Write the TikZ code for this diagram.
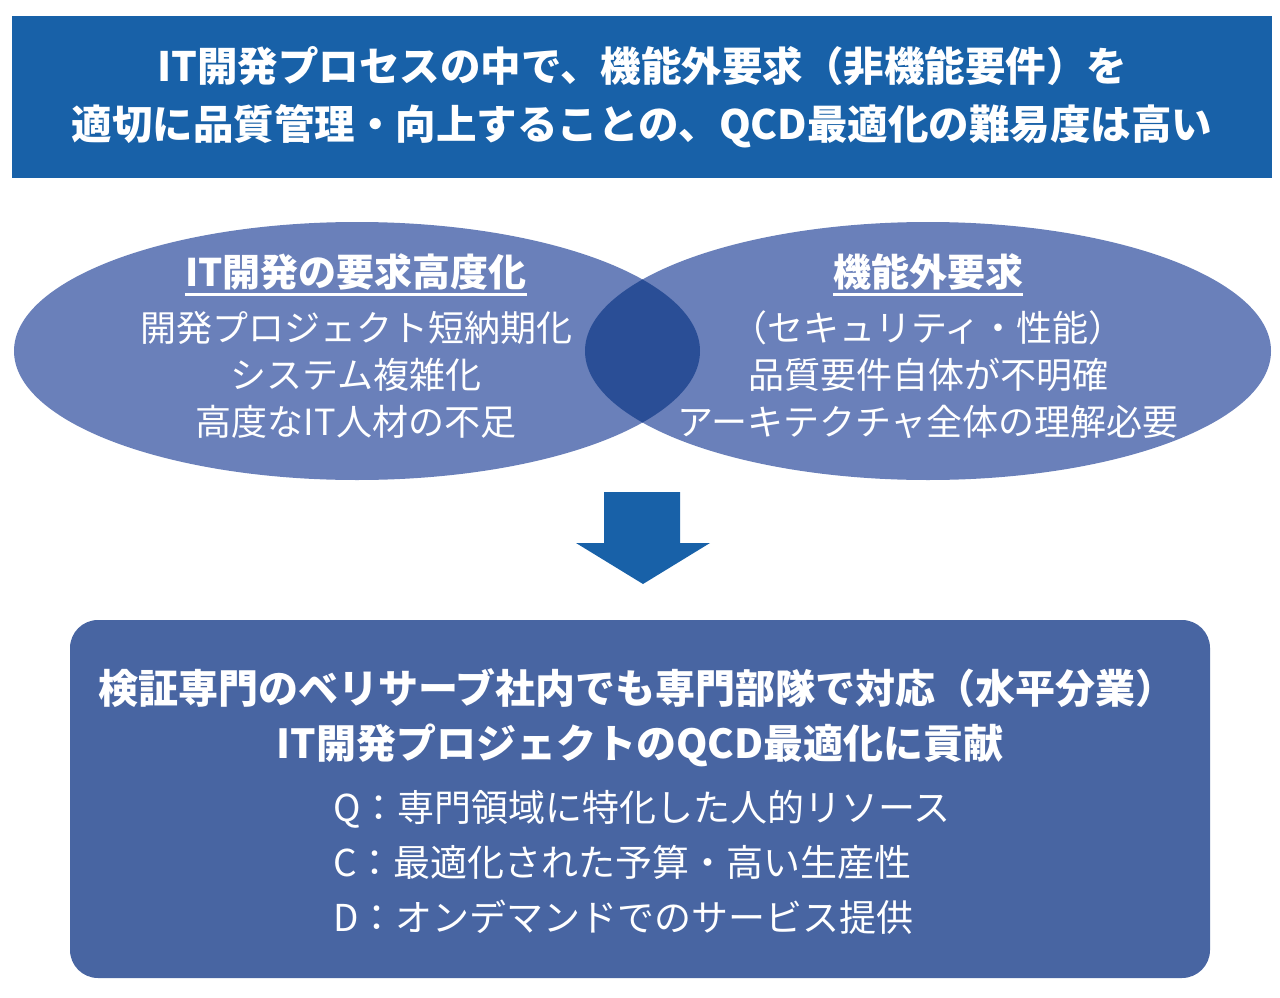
\documentclass[tikz,border=0pt]{standalone}
\usepackage{fontspec}
\setmainfont{Noto Sans CJK JP}
\usetikzlibrary{shapes.geometric}
\definecolor{topblue}{RGB}{24,97,168}
\definecolor{ellblue}{RGB}{106,128,186}
\definecolor{ovlblue}{RGB}{42,78,150}
\definecolor{botblue}{RGB}{72,101,162}
\tikzset{
  ellbox/.style={ellipse, fill=ellblue, minimum width=686pt, minimum height=258pt, inner sep=0pt},
  txt/.style={text=white, inner sep=0pt, align=center},
  ttl/.style={txt, font=\bfseries\fontsize{38}{44}\selectfont},
  body/.style={txt, font=\fontsize{36}{47}\selectfont},
  uline/.style={draw=white, line width=3pt},
}
\begin{document}
\begin{tikzpicture}[x=1pt,y=-1pt]
\useasboundingbox (0,0) rectangle (1280,998);
% top box
\node[fill=topblue, minimum width=1260pt, minimum height=162pt, inner sep=0pt] (top) at (642,97) {};
\node[txt, font=\bfseries\fontsize{40.5}{58}\selectfont] (toptext) at (642,97)
  {IT開発プロセスの中で、機能外要求（非機能要件）を\\適切に品質管理・向上することの、QCD最適化の難易度は高い};
% ellipses
\node[ellbox] (L) at (357,351) {};
\node[ellbox] (R) at (928,351) {};
\begin{scope}
  \clip (357,351) ellipse [x radius=343, y radius=129];
  \fill[ovlblue] (928,351) ellipse [x radius=343, y radius=129];
\end{scope}
% left texts
\node[ttl] (LT) at (356,272) {IT開発の要求高度化};
\draw[uline] ([yshift=-4pt]LT.south west) -- ([yshift=-4pt]LT.south east);
\node[body] (LB) at (356,375) {開発プロジェクト短納期化\\システム複雑化\\高度なIT人材の不足};
% right texts
\node[ttl] (RT) at (928,272) {機能外要求};
\draw[uline] ([yshift=-4pt]RT.south west) -- ([yshift=-4pt]RT.south east);
\node[body] (RB) at (928,375) {（セキュリティ・性能）\\品質要件自体が不明確\\アーキテクチャ全体の理解必要};
% arrow
\fill[topblue] (604,492) -- (680,492) -- (680,543) -- (710,543) -- (643,584) -- (576,543) -- (604,543) -- cycle;
% bottom box
\node[fill=botblue, rounded corners=28pt, minimum width=1140pt, minimum height=358pt, inner sep=0pt] (bot) at (640,799) {};
\node[txt, font=\bfseries\fontsize{40}{50}\selectfont] (B1) at (637,688) {検証専門のベリサーブ社内でも専門部隊で対応（水平分業）};
\node[txt, font=\bfseries\fontsize{40}{50}\selectfont] (B2) at (640,745) {IT開発プロジェクトのQCD最適化に貢献};
\node[txt, align=left, anchor=west, font=\fontsize{37}{55}\selectfont] (B3) at (333,862)
  {Q：専門領域に特化した人的リソース\\C：最適化された予算・高い生産性\\D：オンデマンドでのサービス提供};
\end{tikzpicture}
\end{document}
